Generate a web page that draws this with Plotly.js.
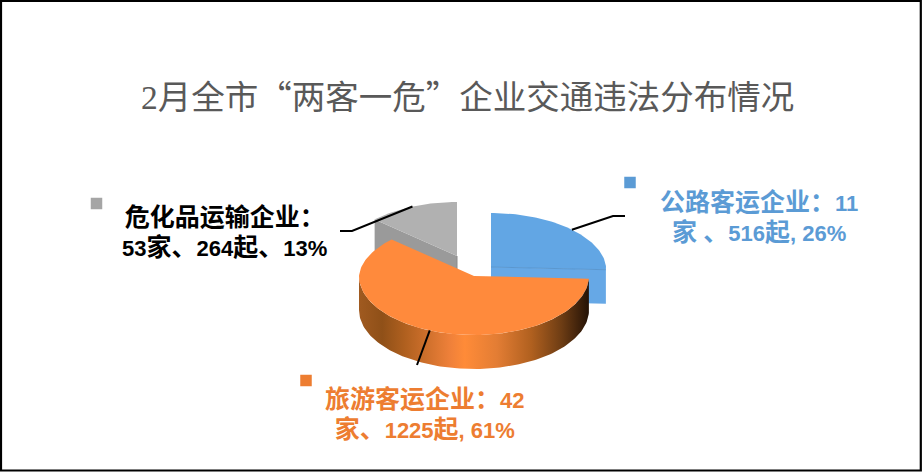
<!DOCTYPE html>
<html><head><meta charset="utf-8">
<script src="https://cdn.plot.ly/plotly-3.0.1.min.js"></script>
<style>html,body{margin:0;padding:0;background:#fff;overflow:hidden}#c{width:922px;height:472px}</style>
</head><body><div id="c"></div>
<script>
const categories = ["公路客运企业","旅游客运企业","危化品运输企业"];
const counts = [516,1225,264];
const companies = [11,42,53];
const percents = [26,61,13];
const titleText = '<span style="font-family:Liberation Serif">2</span>月全市“两客一危”企业交通违法分布情况';
const labelLines = [
 ["公路客运企业：11","家 、516起, 26%"],
 ["旅游客运企业：42","家、1225起, 61%"],
 ["危化品运输企业：","53家、264起、13%"]
];
const topColors = ["#62A6E4","#FF8A3C","#B1B1B1"];
const sideColors = ["#66A8E6",null,"#9A9A9A"];
const legendColors = ["#5B9BD5","#ED7D31","#A5A5A5"];
const textColors = ["#5B9BD5","#ED7D31","#000000"];
const centers = [[491,267],[474,276],[457,256]];
const labelPos = [[759,215],[425,412],[224,230]];
const legendPos = [[630,182.5],[306,380.5],[96.5,203.5]];
const leaderEnds = [[[613,216],[625,216]],[[417,365]],[[352,231],[340,231]]];
const RX=115, RBACK=54, RFRONT=59, DEPTH=34;

const total = counts.reduce((a,b)=>a+b,0);
let acc=0;
const wedges = counts.map(v=>{const a0=acc/total*2*Math.PI; acc+=v; return [a0,acc/total*2*Math.PI];});
function pt(c,a,dy){const cs=Math.cos(a);const rx=RX*(1-0.04*Math.max(cs,0));return [c[0]+rx*Math.sin(a),c[1]-(cs>0?RBACK:RFRONT)*cs+(dy||0)];}
function arc(c,a0,a1,dy){const n=Math.max(6,Math.ceil((a1-a0)*40));const o=[];for(let i=0;i<=n;i++)o.push(pt(c,a0+(a1-a0)*i/n,dy));return o;}
function poly(p,fill,extra){return Object.assign({type:'scatter',mode:'lines',x:p.map(q=>q[0]),y:p.map(q=>q[1]),fill:'toself',fillcolor:fill,line:{width:0,color:fill},hoverinfo:'skip',showlegend:false},extra||{});}
function styled(t){return t.replace(/([0-9,% ]+)|([^0-9,% ]+)/g,(m,d,c)=>d?'<span style="font-family:Liberation Sans;font-size:22px">'+d+'</span>':'<span style="font-size:25px">'+c+'</span>');}
const traces=[];
{const c=centers[2],w=wedges[2];
 const e=pt(c,w[0]);
 traces.push(poly([c,e,[e[0],e[1]+DEPTH],[c[0],c[1]+DEPTH],c],sideColors[2]));
 traces.push(poly([c,...arc(c,w[0],w[1]),c],topColors[2]));
 traces.push({type:'scatter',mode:'lines',x:[c[0],c[0]],y:[c[1],c[1]+DEPTH],line:{color:'#8a8a8a',width:1},hoverinfo:'skip',showlegend:false});
}
{const c=centers[0],w=wedges[0];
 const e=pt(c,w[1]);
 traces.push(poly([c,e,[e[0],e[1]+DEPTH],[c[0],c[1]+DEPTH],c],sideColors[0]));
 traces.push(poly([c,...arc(c,w[0],w[1]),c],topColors[0]));
 traces.push({type:'scatter',mode:'lines',x:[c[0],e[0]],y:[c[1],e[1]],line:{color:'#5A97CF',width:1},hoverinfo:'skip',showlegend:false});
}
{const c=centers[1],w=wedges[1];
 const a1=Math.min(w[1],1.5*Math.PI);
 const front=arc(c,w[0],a1);
 const bottom=arc(c,w[0],a1,DEPTH).reverse();
 traces.push(poly([...front,...bottom,front[0]],'#A85A20',{fillgradient:{type:'horizontal',colorscale:[
  [0,'#A05A20'],[0.1,'#8F5018'],[0.2,'#B0601F'],[0.4,'#F0813A'],[0.46,'#FF8B38'],[0.6,'#E37D34'],[0.75,'#B0601F'],[0.88,'#6E3D14'],[1,'#241206']]}}));
 traces.push(poly([c,...arc(c,w[0],w[1]),c],topColors[1]));
}
wedges.forEach((w,i)=>{const s=pt(centers[i],(w[0]+w[1])/2);const p=[s,...leaderEnds[i]];
 traces.push({type:'scatter',mode:'lines',x:p.map(q=>q[0]),y:p.map(q=>q[1]),line:{color:'#000',width:2},hoverinfo:'skip',showlegend:false});});
traces.push({type:'scatter',mode:'markers',x:legendPos.map(p=>p[0]),y:legendPos.map(p=>p[1]),marker:{symbol:'square',size:11.5,color:legendColors},hoverinfo:'skip',showlegend:false,text:categories});

const annotations=[{x:467,y:94,xref:'x',yref:'y',text:titleText,showarrow:false,xanchor:'center',yanchor:'middle',font:{family:'"Noto Sans CJK SC"',size:33.5,color:'#595959'}}];
labelLines.forEach((ls,i)=>annotations.push({x:labelPos[i][0],y:labelPos[i][1],xref:'x',yref:'y',text:'<b>'+ls.map(styled).join('<br>')+'</b>',showarrow:false,xanchor:'center',yanchor:'middle',align:'center',font:{family:'"Noto Sans CJK SC"',size:23,color:textColors[i]}}));

Plotly.newPlot('c',traces,{width:922,height:472,margin:{l:0,r:0,t:0,b:0},paper_bgcolor:'#fff',plot_bgcolor:'#fff',showlegend:false,
 xaxis:{range:[0,922],visible:false,fixedrange:true},yaxis:{range:[472,0],visible:false,fixedrange:true},annotations,
 shapes:[{type:'rect',xref:'x',yref:'y',x0:1,y0:1,x1:920.8,y1:470.5,line:{color:'#000',width:2.2},layer:'above'}]},{displayModeBar:false,staticPlot:true});
</script></body></html>
